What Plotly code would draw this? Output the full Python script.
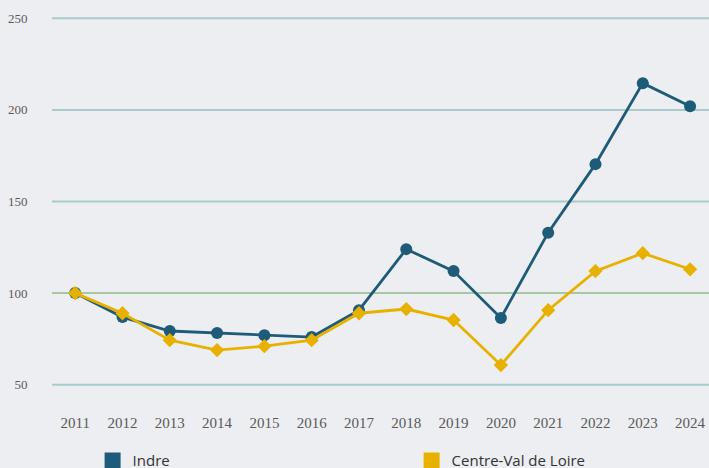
import plotly.graph_objects as go

years = [2011, 2012, 2013, 2014, 2015, 2016, 2017, 2018, 2019, 2020, 2021, 2022, 2023, 2024]
indre = [100, 86.9, 79.3, 78.2, 77.0, 76.0, 90.7, 124.0, 112.0, 86.4, 133.0, 170.4, 214.6, 202.0]
centre = [100, 89.0, 74.3, 68.9, 71.0, 74.3, 89.0, 91.3, 85.3, 60.7, 90.7, 112.0, 121.8, 113.0]
y_ticks = [50, 100, 150, 200, 250]
series_names = ["Indre", "Centre-Val de Loire"]

C_INDRE = "#1d5b79"
C_CENTRE = "#e8b100"
BG = "#eceef1"
GRID = "#a8cccb"
GRID_BASE = "#a9c6a3"

fig = go.Figure()
fig.add_trace(go.Scatter(x=years, y=indre, mode="lines+markers", name=series_names[0],
                         line=dict(color=C_INDRE, width=2.8),
                         marker=dict(symbol="circle", size=12, color=C_INDRE),
                         showlegend=False, legendgroup="a"))
fig.add_trace(go.Scatter(x=years, y=centre, mode="lines+markers", name=series_names[1],
                         line=dict(color=C_CENTRE, width=2.8),
                         marker=dict(symbol="diamond", size=11, color=C_CENTRE),
                         showlegend=False, legendgroup="b"))
# legend squares
fig.add_trace(go.Scatter(x=[None], y=[None], mode="markers", name=series_names[0],
                         marker=dict(symbol="square", size=16, color=C_INDRE), legendgroup="a"))
fig.add_trace(go.Scatter(x=[None], y=[None], mode="markers", name=series_names[1],
                         marker=dict(symbol="square", size=16, color=C_CENTRE), legendgroup="b"))

for v in y_ticks:
    fig.add_hline(y=v, line=dict(color=GRID_BASE if v == 100 else GRID, width=2), layer="below")

fig.update_layout(
    width=709, height=468,
    margin=dict(l=52, r=0, t=0, b=65),
    paper_bgcolor=BG, plot_bgcolor=BG,
    showlegend=True,
    legend=dict(orientation="h", xref="container", yref="container",
                x=0.1306, y=0.0507, xanchor="left", yanchor="top",
                entrywidth=274, entrywidthmode="pixels", itemwidth=30,
                font=dict(family="Open Sans", size=15, color="#333333"),
                bgcolor="rgba(0,0,0,0)"),
    xaxis=dict(range=[2010.51, 2024.4], tickvals=years, ticktext=[str(y) for y in years],
               showgrid=False, zeroline=False, showline=False,
               tickfont=dict(family="Liberation Serif", size=15, color="#5a5a5a"),
               ticks="outside", ticklen=6, tickcolor="rgba(0,0,0,0)"),
    yaxis=dict(range=[40, 260], tickvals=y_ticks, ticktext=[str(v) for v in y_ticks],
               showgrid=False, zeroline=False, showline=False,
               tickfont=dict(family="Liberation Serif", size=13, color="#5a5a5a"),
               ticks="outside", ticklen=21, tickcolor="rgba(0,0,0,0)"),
)

fig.write_html("out.html", config={"displayModeBar": False},
               post_script="document.body.style.margin='0';")
